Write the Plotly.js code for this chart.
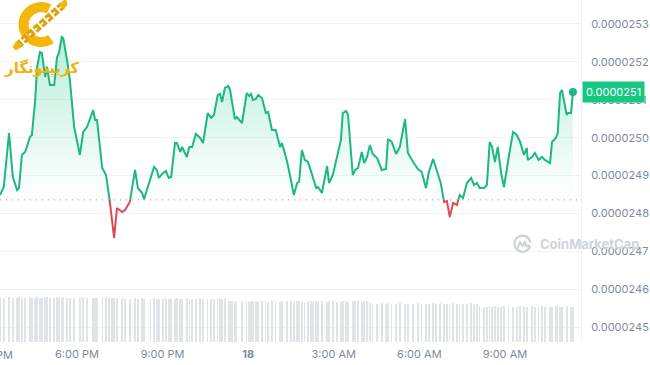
<!DOCTYPE html>
<html>
<head>
<meta charset="utf-8">
<script src="https://cdn.plot.ly/plotly-3.0.1.min.js"></script>
<style>
html,body{margin:0;padding:0;background:#fff;}
#chart{width:650px;height:365px;}
</style>
</head>
<body>
<div id="chart"></div>
<script>
// ---------------- data ----------------
const times = [
'2024-06-17 15:18','2024-06-17 15:26','2024-06-17 15:37','2024-06-17 15:45','2024-06-17 15:54','2024-06-17 15:58',
'2024-06-17 16:04','2024-06-17 16:11','2024-06-17 16:21','2024-06-17 16:25','2024-06-17 16:32','2024-06-17 16:36',
'2024-06-17 16:42','2024-06-17 16:46','2024-06-17 16:53','2024-06-17 16:57','2024-06-17 17:03','2024-06-17 17:12',
'2024-06-17 17:18','2024-06-17 17:22','2024-06-17 17:28','2024-06-17 17:31','2024-06-17 17:39','2024-06-17 17:45',
'2024-06-17 17:54','2024-06-17 18:06','2024-06-17 18:13','2024-06-17 18:21','2024-06-17 18:34','2024-06-17 18:38',
'2024-06-17 18:42','2024-06-17 18:53','2024-06-17 19:01','2024-06-17 19:07','2024-06-17 19:14','2024-06-17 19:18',
'2024-06-17 19:24','2024-06-17 19:35','2024-06-17 19:41','2024-06-17 19:51','2024-06-17 20:02','2024-06-17 20:08',
'2024-06-17 20:17','2024-06-17 20:21',
'2024-06-17 20:34','2024-06-17 20:42','2024-06-17 20:48','2024-06-17 20:52','2024-06-17 21:01','2024-06-17 21:07',
'2024-06-17 21:13','2024-06-17 21:18','2024-06-17 21:26','2024-06-17 21:30','2024-06-17 21:37','2024-06-17 21:41',
'2024-06-17 21:51','2024-06-17 21:56','2024-06-17 22:02','2024-06-17 22:10','2024-06-17 22:19','2024-06-17 22:25',
'2024-06-17 22:35','2024-06-17 22:42','2024-06-17 22:48','2024-06-17 22:56','2024-06-17 23:01','2024-06-17 23:05',
'2024-06-17 23:11','2024-06-17 23:18','2024-06-17 23:22','2024-06-17 23:26','2024-06-17 23:32','2024-06-17 23:36',
'2024-06-17 23:47','2024-06-17 23:57','2024-06-18 00:02','2024-06-18 00:06','2024-06-18 00:10','2024-06-18 00:16',
'2024-06-18 00:21','2024-06-18 00:29','2024-06-18 00:37','2024-06-18 00:42','2024-06-18 00:50','2024-06-18 00:58',
'2024-06-18 01:07','2024-06-18 01:11','2024-06-18 01:22','2024-06-18 01:30','2024-06-18 01:36',
'2024-06-18 01:43','2024-06-18 01:47','2024-06-18 01:53','2024-06-18 01:59','2024-06-18 02:06','2024-06-18 02:12',
'2024-06-18 02:16','2024-06-18 02:23','2024-06-18 02:27','2024-06-18 02:35','2024-06-18 02:46','2024-06-18 02:50',
'2024-06-18 02:58','2024-06-18 03:07','2024-06-18 03:15','2024-06-18 03:19','2024-06-18 03:26','2024-06-18 03:30',
'2024-06-18 03:40','2024-06-18 03:45','2024-06-18 03:51','2024-06-18 03:59','2024-06-18 04:04','2024-06-18 04:10',
'2024-06-18 04:16','2024-06-18 04:22','2024-06-18 04:31','2024-06-18 04:41','2024-06-18 04:50','2024-06-18 04:54',
'2024-06-18 05:02','2024-06-18 05:11','2024-06-18 05:19','2024-06-18 05:30','2024-06-18 05:36','2024-06-18 05:47',
'2024-06-18 05:57','2024-06-18 06:05','2024-06-18 06:14','2024-06-18 06:20','2024-06-18 06:29','2024-06-18 06:35',
'2024-06-18 06:43',
'2024-06-18 06:45','2024-06-18 06:52','2024-06-18 06:58','2024-06-18 07:04','2024-06-18 07:11','2024-06-18 07:19',
'2024-06-18 07:25','2024-06-18 07:32','2024-06-18 07:40','2024-06-18 07:49','2024-06-18 07:55','2024-06-18 08:01',
'2024-06-18 08:07','2024-06-18 08:16','2024-06-18 08:22','2024-06-18 08:28','2024-06-18 08:33','2024-06-18 08:39',
'2024-06-18 08:45','2024-06-18 08:52','2024-06-18 08:58','2024-06-18 09:08','2024-06-18 09:17','2024-06-18 09:25',
'2024-06-18 09:32','2024-06-18 09:40','2024-06-18 09:46','2024-06-18 09:48','2024-06-18 09:57','2024-06-18 10:03',
'2024-06-18 10:11','2024-06-18 10:18','2024-06-18 10:24','2024-06-18 10:35','2024-06-18 10:39','2024-06-18 10:47',
'2024-06-18 10:51','2024-06-18 10:56','2024-06-18 11:00','2024-06-18 11:10','2024-06-18 11:12','2024-06-18 11:19',
'2024-06-18 11:23'
];

const prices = [
0.0000248488,0.0000248699,0.0000250124,0.0000248963,0.0000248620,0.0000248673,
0.0000249544,0.0000249623,0.0000250018,0.0000250071,0.0000250995,0.0000251865,
0.0000252261,0.0000252235,0.0000251602,0.0000251865,0.0000251391,0.0000251391,
0.0000252129,0.0000252235,0.0000252657,0.0000252631,0.0000252050,0.0000251522,
0.0000250282,0.0000249544,0.0000250150,0.0000250282,0.0000250731,0.0000250467,
0.0000250467,0.0000249201,0.0000249016,0.0000248541,0.0000247697,0.0000247354,
0.0000248145,0.0000248040,0.0000248092,0.0000248303,0.0000249148,0.0000248673,
0.0000248541,0.0000248380,
0.0000248937,0.0000249227,0.0000249148,0.0000248937,0.0000249069,0.0000249121,
0.0000248937,0.0000248963,0.0000249860,0.0000249860,0.0000249623,0.0000249755,
0.0000249491,0.0000249755,0.0000249755,0.0000250098,0.0000249992,0.0000249860,
0.0000250652,0.0000250520,0.0000250599,0.0000251127,0.0000251153,0.0000250942,
0.0000251311,0.0000251364,0.0000251259,0.0000250916,0.0000250493,0.0000250546,
0.0000250388,0.0000251179,0.0000251100,0.0000251153,0.0000250995,0.0000251021,
0.0000251127,0.0000251047,0.0000250652,0.0000250678,0.0000250203,0.0000250203,
0.0000249755,0.0000249860,0.0000249359,0.0000248884,0.0000248488,
0.0000248805,0.0000248831,0.0000249675,0.0000249412,0.0000249359,0.0000249095,
0.0000248963,0.0000248673,0.0000248699,0.0000248541,0.0000249253,0.0000248805,
0.0000249016,0.0000249544,0.0000249939,0.0000250652,0.0000250704,0.0000250599,
0.0000249016,0.0000249148,0.0000249201,0.0000249623,0.0000249332,0.0000249491,
0.0000249807,0.0000249570,0.0000249464,0.0000249148,0.0000249174,0.0000249966,
0.0000249887,0.0000249570,0.0000249755,0.0000250493,0.0000249596,0.0000249359,
0.0000249174,0.0000249095,0.0000248673,0.0000249095,0.0000249438,0.0000249201,
0.0000248884,
0.0000248805,0.0000248303,0.0000248330,0.0000247908,0.0000248277,0.0000248224,
0.0000248488,0.0000248409,0.0000248805,0.0000248937,0.0000248752,0.0000248805,
0.0000248673,0.0000248673,0.0000248752,0.0000249887,0.0000249755,0.0000249359,
0.0000249755,0.0000249069,0.0000248699,0.0000249491,0.0000250150,0.0000250071,
0.0000249887,0.0000249544,0.0000249728,0.0000249412,0.0000249491,0.0000249596,
0.0000249412,0.0000249491,0.0000249412,0.0000249332,0.0000249887,0.0000249992,
0.0000250124,0.0000251179,0.0000251259,0.0000250599,0.0000250652,0.0000250652,
0.0000251206
];

// rolling volume, millions USD
const volumeM = [
417,416,418,415,416,417,415,416,418,416,415,417,416,414,416,417,415,416,418,416,415,417,416,415,414,416,417,415,416,414,416,415,417,416,414,415,416,
408,407,406,408,407,409,407,406,408,407,406,407,408,407,405,407,408,406,407,408,407,406,407,408,406,407,405,407,408,406,407,408,407,
380,379,381,378,379,380,378,379,381,379,378,380,379,377,379,380,378,379,381,379,378,380,379,378,377,379,380,378,379,377,379,378,380,379,377,378,379,380,378,379,381,379,378,380,379,
361,360,359,361,360,362,360,359,361,360,359,360,361,360,358,360,361,359,360,361,360,359,360,361,359,360,358,360,361,359,360,
333,332,331,333,332,334,332,331,333,332,331,332,333,332,330,332,333,331,332,333,332,331,332,333,331,332,330,332,333,331,332
];

const openPrice = 0.000024836;   // reference (dotted) price
const yTickVals = [0.0000245,0.0000246,0.0000247,0.0000248,0.0000249,0.0000250,0.0000251,0.0000252,0.0000253];
const xTickVals = ['2024-06-17 18:00','2024-06-17 21:00','2024-06-18 00:00','2024-06-18 03:00','2024-06-18 06:00','2024-06-18 09:00'];
const xTickText = ['6:00 PM','9:00 PM','<b>18</b>','3:00 AM','6:00 AM','9:00 AM'];
const cutTick = {time:'2024-06-17 15:00', label:'3:00 PM'};
const xRange = ['2024-06-17 15:18','2024-06-18 11:40'];
const yRange = [0.0000244609, 0.0000253633];

// ---------------- build ----------------
const GREEN = '#1db882', RED = '#dc4a55', GREY = '#808a9d';
function toMs(s){const [d,t]=s.split(' ');const [Y,M,D]=d.split('-').map(Number);const [h,m]=t.split(':').map(Number);return Date.UTC(Y,M-1,D,h,m);}
const xs = times.map(toMs);
const g={x:[],y:[]}, r={x:[],y:[]}, f={x:[],y:[]};
for(let i=0;i<xs.length;i++){
  const v=prices[i], up=v>=openPrice;
  if(i>0){
    const pv=prices[i-1], pup=pv>=openPrice;
    if(up!==pup){
      const k=(openPrice-pv)/(v-pv);
      const xc=xs[i-1]+k*(xs[i]-xs[i-1]);
      g.x.push(xc); g.y.push(openPrice);
      r.x.push(xc); r.y.push(openPrice);
      f.x.push(xc); f.y.push(openPrice);
      if(pup){g.x.push(xc); g.y.push(null);} else {r.x.push(xc); r.y.push(null);}
    }
  }
  if(up){g.x.push(xs[i]); g.y.push(v);} else {r.x.push(xs[i]); r.y.push(v);}
  f.x.push(xs[i]); f.y.push(Math.max(v,openPrice));
}
const lastX = xs[xs.length-1], lastP = prices[prices.length-1];

const traces = [
  {type:'scatter', mode:'lines', x:f.x, y:f.x.map(()=>openPrice), line:{width:0, color:'rgba(0,0,0,0)'}, hoverinfo:'skip', showlegend:false},
  {type:'scatter', mode:'lines', x:f.x, y:f.y, fill:'tonexty', line:{width:0, color:'rgba(0,0,0,0)'},
   fillcolor:'rgba(22,199,132,0.15)',
   fillgradient:{type:'vertical', colorscale:[[0,'rgba(22,199,132,0.0)'],[1,'rgba(22,199,132,0.30)']]},
   hoverinfo:'skip', showlegend:false},
  {type:'scatter', mode:'lines', x:g.x, y:g.y, line:{color:GREEN, width:2}, connectgaps:false, hoverinfo:'skip', showlegend:false},
  {type:'scatter', mode:'lines', x:r.x, y:r.y, line:{color:RED, width:2}, connectgaps:false, hoverinfo:'skip', showlegend:false},
  {type:'scatter', mode:'markers', x:[lastX], y:[lastP], marker:{color:GREEN, size:8}, hoverinfo:'skip', showlegend:false},
  {type:'bar', x:xs, y:volumeM, yaxis:'y2', width:180000, marker:{color:'#e0e3e8', line:{width:0}}, hoverinfo:'skip', showlegend:false}
];

const W=650,H=365,ML=0,MR=69,MT=0,MB=23;
const PW=W-ML-MR, PH=H-MT-MB;
const px = x => (x-ML)/PW;
const py = y => 1-(y-MT)/PH;

const logoSvg = '<svg xmlns="http://www.w3.org/2000/svg" width="54" height="52" viewBox="0 0 54 52">'+
 '<path d="M36,9 A17.5,17.5 0 1 0 38,39" fill="none" stroke="#f5b60d" stroke-width="10"/>'+
 '<line x1="4" y1="46" x2="50" y2="5" stroke="#e0a00a" stroke-width="7.5" stroke-dasharray="6,2"/>'+
 '<line x1="4" y1="46" x2="50" y2="5" stroke="#ffffff" stroke-width="1.6" stroke-dasharray="3,5"/>'+
 '<rect x="0" y="43" width="8" height="6" rx="1.5" fill="#f5b60d" transform="rotate(-40 4 46)"/>'+
 '<rect x="47" y="1" width="8" height="6" rx="1.5" fill="#f5b60d" transform="rotate(-40 51 4)"/>'+
 '</svg>';
const cmcSvg = '<svg xmlns="http://www.w3.org/2000/svg" width="20" height="20" viewBox="0 0 20 20">'+
 '<path d="M17.5,12.5 A8,8 0 1 1 17.8,8" fill="none" stroke="#cdd1d8" stroke-width="2.2" stroke-linecap="round"/>'+
 '<path d="M5.3,13.5 L7.6,7.6 L10,12.3 L12.4,7.6 L13.8,12.6 L16.3,11.4" fill="none" stroke="#cdd1d8" stroke-width="2" stroke-linejoin="round" stroke-linecap="round"/>'+
 '</svg>';
const uri = s => 'data:image/svg+xml;charset=utf-8,'+encodeURIComponent(s);

const r0=toMs(xRange[0]), r1=toMs(xRange[1]);
const cutFrac = (toMs(cutTick.time)-r0)/(r1-r0);

const layout = {
  width:W, height:H,
  margin:{l:ML, r:MR, t:MT, b:MB, pad:0},
  paper_bgcolor:'#ffffff', plot_bgcolor:'#ffffff',
  font:{family:'Inter, "Open Sans", sans-serif', color:GREY, size:11},
  showlegend:false,
  bargap:0,
  xaxis:{type:'date', range:[r0,r1], tickmode:'array', tickvals:xTickVals, ticktext:xTickText,
         showgrid:false, zeroline:false, showline:false, ticks:'', ticklabelstandoff:4,
         tickfont:{family:'Inter, sans-serif', size:11, color:GREY}, fixedrange:true},
  yaxis:{side:'right', range:yRange, tickmode:'array', tickvals:yTickVals, tickformat:'.7f',
         showgrid:true, gridcolor:'#f1f3f6', gridwidth:1, zeroline:false,
         showline:true, linecolor:'#eef0f3', linewidth:1, ticks:'', ticklabelstandoff:7,
         tickfont:{family:'Inter, sans-serif', size:11, color:GREY}, fixedrange:true},
  yaxis2:{overlaying:'y', range:[0,3200], visible:false, fixedrange:true},
  shapes:[
    {type:'line', xref:'paper', yref:'y', x0:0, x1:1, y0:openPrice, y1:openPrice,
     line:{color:'#a3abb7', width:1.2, dash:'1px,5px'}, layer:'below'}
  ],
  images:[
    {source:uri(logoSvg), xref:'paper', yref:'paper', x:px(13), y:py(0), sizex:54/PW, sizey:52/PH,
     xanchor:'left', yanchor:'top', sizing:'stretch', layer:'above'},
    {source:uri(cmcSvg), xref:'paper', yref:'paper', x:px(512.5), y:py(234), sizex:20/PW, sizey:20/PH,
     xanchor:'left', yanchor:'top', sizing:'stretch', layer:'above'}
  ],
  annotations:[
    {text:'<b>کریپتونگار</b>', xref:'paper', yref:'paper', x:px(41), y:py(68), xanchor:'center', yanchor:'middle',
     showarrow:false, font:{family:'"DejaVu Sans", sans-serif', size:15, color:'#f2b207'}},
    {text:'<b>CoinMarketCap</b>', xref:'paper', yref:'paper', x:px(538), y:py(244), xanchor:'left', yanchor:'middle',
     showarrow:false, font:{family:'Inter, sans-serif', size:13, color:'#cfd3da'}},
    {text:cutTick.label, xref:'paper', yref:'paper', x:cutFrac, y:0, xanchor:'center', yanchor:'top', yshift:-4,
     showarrow:false, font:{family:'Inter, sans-serif', size:11, color:GREY}},
    {text:lastP.toFixed(7), xref:'paper', yref:'y', x:1, y:lastP, xanchor:'left', yanchor:'middle', xshift:1,
     showarrow:false, bgcolor:'#16c784', borderpad:3, bordercolor:'rgba(0,0,0,0)',
     font:{family:'Inter, sans-serif', size:11, color:'#ffffff'}}
  ]
};

Plotly.newPlot('chart', traces, layout, {staticPlot:true, displayModeBar:false});
</script>
</body>
</html>
